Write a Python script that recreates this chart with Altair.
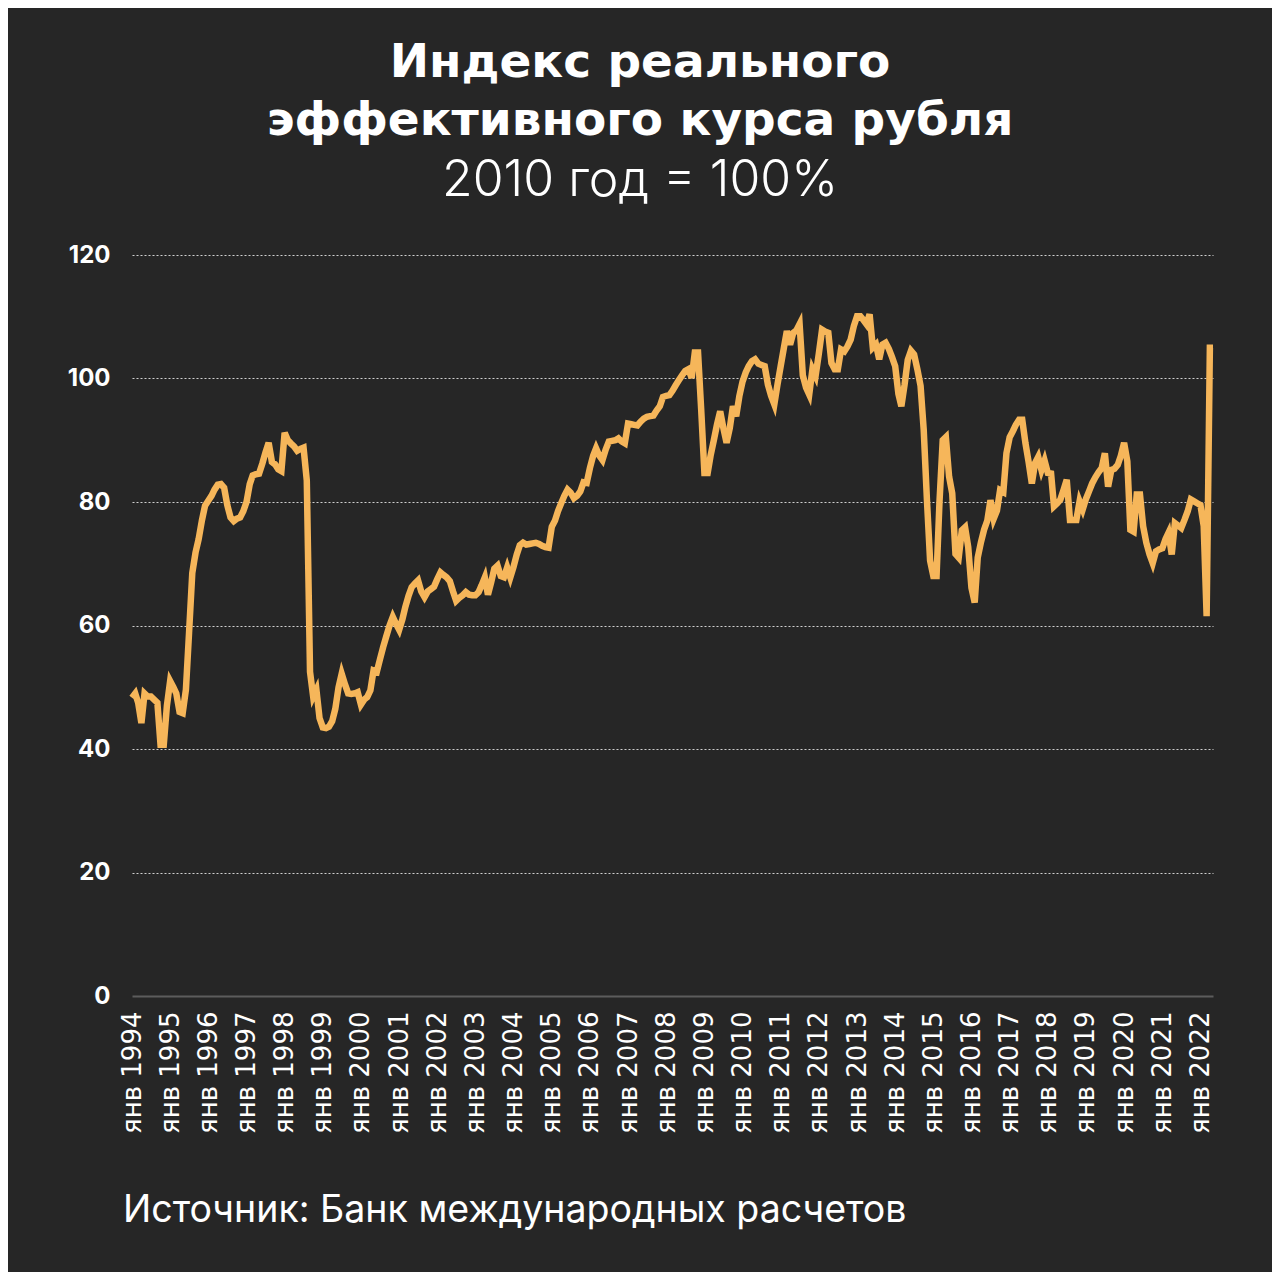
import altair as alt
import pandas as pd

FONT = "Inter"
TFONT = "DejaVu Sans"
XFONT = "DejaVu Sans"
BG = "#262626"
LINE = "#F6B65A"

title_lines = ["Индекс реального", "эффективного курса рубля"]
subtitle = "2010 год = 100%"
source = "Источник: Банк международных расчетов"
month_prefix = "янв "
y_ticks = [0, 20, 40, 60, 80, 100, 120]
years = list(range(1994, 2023))

y1994 = [48.3, 49.0, 47.5, 44.2, 49.0, 48.5, 48.5, 48.0, 47.5, 40.7, 40.7, 47.0]
y1995 = [51.0, 50.0, 49.0, 46.0, 45.8, 49.6, 58.8, 68.5, 71.8, 74.0, 77.0, 79.4]
y1996 = [80.2, 81.0, 82.0, 82.8, 82.9, 82.3, 79.5, 77.5, 76.9, 77.3, 77.5, 78.5]
y1997 = [80.0, 82.9, 84.3, 84.5, 84.6, 86.2, 88.0, 89.6, 86.5, 86.1, 85.3, 85.0]
y1998 = [91.2, 90.0, 89.5, 89.0, 88.3, 88.6, 88.8, 83.5, 52.5, 48.5, 49.6, 45.0]
y1999 = [43.5, 43.4, 43.6, 44.5, 46.5, 50.0, 52.2, 50.5, 49.0, 48.9, 49.0, 49.2]
y2000 = [47.2, 48.0, 48.4, 49.5, 52.7, 52.5, 54.5, 56.5, 58.3, 60.0, 61.4, 60.3]
y2001 = [59.3, 61.0, 63.0, 64.8, 66.2, 66.8, 67.3, 65.5, 64.6, 65.5, 65.9, 66.3]
y2002 = [67.5, 68.6, 68.2, 67.8, 67.2, 65.5, 64.0, 64.5, 64.9, 65.4, 65.0, 64.9]
y2003 = [64.9, 65.4, 66.5, 67.8, 65.0, 67.0, 69.2, 69.7, 68.0, 67.8, 69.4, 67.8]
y2004 = [69.5, 71.5, 73.0, 73.4, 73.1, 73.2, 73.3, 73.4, 73.2, 72.9, 72.7, 72.6]
y2005 = [76.0, 77.0, 78.5, 79.8, 81.0, 82.0, 81.5, 80.6, 81.0, 81.7, 83.2, 83.1]
y2006 = [85.5, 87.5, 88.7, 87.5, 86.8, 88.5, 89.8, 89.9, 90.0, 90.3, 89.8, 89.5]
y2007 = [92.7, 92.6, 92.5, 92.4, 93.0, 93.5, 93.8, 93.9, 94.0, 94.8, 95.5, 97.0]
y2008 = [97.2, 97.3, 98.0, 98.9, 99.7, 100.5, 101.2, 101.5, 100.1, 104.2, 104.2, 95.0]
y2009 = [84.7, 84.7, 87.5, 90.0, 92.5, 94.7, 92.0, 89.6, 92.0, 95.5, 93.9, 97.1]
y2010 = [99.5, 101.0, 102.0, 102.8, 103.1, 102.4, 102.2, 102.0, 99.0, 97.2, 95.8, 99.0]
y2011 = [102.0, 105.0, 107.7, 105.5, 107.4, 107.8, 108.8, 100.5, 98.5, 97.4, 101.5, 100.4]
y2012 = [104.0, 107.9, 107.6, 107.4, 102.5, 101.5, 101.5, 104.7, 104.4, 105.2, 106.3, 108.5]
y2013 = [110.1, 110.1, 109.5, 108.8, 110.4, 105.0, 105.5, 103.1, 105.5, 105.8, 104.8, 103.5]
y2014 = [102.0, 97.5, 95.5, 99.0, 103.0, 104.5, 103.9, 101.5, 98.8, 91.7, 80.3, 70.5]
y2015 = [68.0, 68.0, 80.0, 90.0, 90.5, 84.1, 81.4, 71.6, 71.0, 75.4, 75.9, 72.7]
y2016 = [66.1, 63.7, 71.0, 73.5, 75.5, 77.0, 80.3, 77.3, 78.6, 81.9, 81.6, 87.9]
y2017 = [90.5, 91.5, 92.5, 93.3, 93.3, 89.5, 86.5, 83.0, 86.3, 87.3, 85.2, 86.7]
y2018 = [84.7, 84.6, 79.3, 79.8, 80.4, 82.0, 83.6, 77.1, 77.1, 77.1, 80.1, 78.8]
y2019 = [80.5, 81.8, 83.0, 84.0, 84.8, 85.5, 87.9, 82.5, 85.2, 85.4, 86.0, 87.5]
y2020 = [89.6, 86.6, 75.5, 75.2, 81.2, 81.2, 76.1, 73.4, 71.5, 70.1, 72.0, 72.3]
y2021 = [72.5, 74.0, 75.0, 71.5, 76.6, 76.2, 75.8, 77.1, 78.5, 80.4, 80.1, 79.8]
y2022 = [79.5, 76.1, 61.5, 105.0, 105.0]

values = (y1994 + y1995 + y1996 + y1997 + y1998 + y1999 + y2000 + y2001 + y2002
          + y2003 + y2004 + y2005 + y2006 + y2007 + y2008 + y2009 + y2010 + y2011
          + y2012 + y2013 + y2014 + y2015 + y2016 + y2017 + y2018 + y2019 + y2020
          + y2021 + y2022)
dates = pd.date_range("1994-01-01", periods=len(values), freq="MS").strftime("%Y-%m-%d")
df = pd.DataFrame({"date": list(dates), "value": values})

W, H = 1081, 741

x_values = [alt.DateTime(year=y, month=1, date=1, utc=True) for y in years]

line = alt.Chart(df).mark_line(
    color=LINE, strokeWidth=6.5, strokeJoin="miter", strokeCap="butt"
).encode(
    x=alt.X(
        "date:T",
        scale=alt.Scale(
            type="utc",
            domain=[alt.DateTime(year=1994, month=1, date=1, utc=True),
                    alt.DateTime(year=2022, month=5, date=1, utc=True)],
        ),
        axis=alt.Axis(
            values=x_values,
            labelExpr="'" + month_prefix + "' + utcFormat(datum.value, '%Y')",
            labelAngle=-90,
            labelAlign="right",
            labelBaseline="middle",
            labelFont=XFONT,
            labelFontSize=26,
            labelFontWeight=400,
            labelColor="#ffffff",
            labelPadding=15,
            labelOverlap=False,
            labelFlush=False,
            ticks=False,
            grid=False,
            domain=True,
            domainColor="#5c5c5c",
            domainWidth=2,
            title=None,
        ),
    ),
    y=alt.Y(
        "value:Q",
        scale=alt.Scale(domain=[0, 120], nice=False, zero=True),
        axis=alt.Axis(
            values=y_ticks,
            labelFont=FONT,
            labelFontSize=24,
            labelFontWeight="bold",
            labelColor="#ffffff",
            labelPadding=22,
            ticks=False,
            domain=False,
            grid=True,
            gridColor={"condition": {"test": "datum.value === 0", "value": "transparent"},
                       "value": "#cfcfcf"},
            gridDash=[2, 2],
            gridWidth=1.2,
            title=None,
        ),
    ),
)


def text_layer(s, x, y, size, weight, align="center", font=FONT):
    return alt.Chart(pd.DataFrame({"t": [s]})).mark_text(
        font=font, fontSize=size, fontWeight=weight, color="#ffffff",
        align=align, baseline="alphabetic",
    ).encode(x=alt.value(x), y=alt.value(y), text="t:N")


cx = 640 - 132
chart = alt.layer(
    line,
    text_layer(title_lines[0], cx, 77 - 255, 47, "bold", font=TFONT),
    text_layer(title_lines[1], cx, 135 - 255, 47, "bold", font=TFONT),
    text_layer(subtitle, cx, 196 - 255, 50, 300),
    text_layer(source, 123 - 132, 1222 - 255, 37.5, 400, align="left"),
).properties(
    width=W,
    height=H,
    background=BG,
    padding={"left": 124, "top": 247, "right": 59, "bottom": 276},
    autosize=alt.AutoSizeParams(type="none"),
).configure_view(stroke=None)

chart.save("out.html", embed_options={"renderer": "svg", "actions": False})
